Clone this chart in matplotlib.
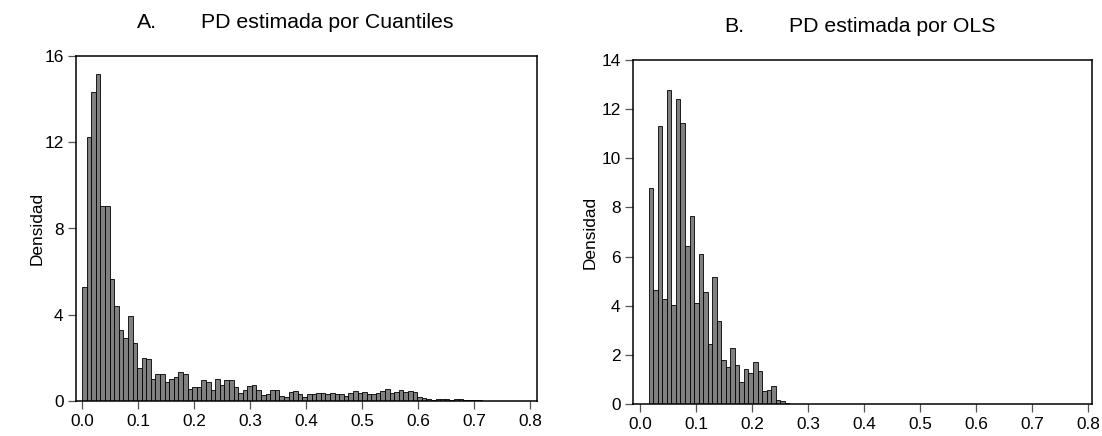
import numpy
import matplotlib
matplotlib.use('Agg')
from matplotlib import pyplot
pyplot.rcParams.update({'font.family': ['Liberation Sans', 'DejaVu Sans'], 'font.size': 12.4})

# densidades por barra
dens_cuantiles = [5.30, 12.26, 14.33, 15.16, 9.03, 9.03, 5.66, 4.39, 3.31, 2.91,
                  3.93, 2.67, 1.51, 2.01, 1.96, 1.00, 1.24, 1.27, 0.87, 1.02,
                  1.13, 1.36, 1.24, 0.56, 0.63, 0.65, 0.97, 0.87, 0.49, 1.00,
                  0.73, 0.99, 0.96, 0.63, 0.39, 0.49, 0.68, 0.73, 0.49, 0.28,
                  0.32, 0.49, 0.49, 0.22, 0.19, 0.40, 0.45, 0.31, 0.20, 0.31,
                  0.34, 0.36, 0.39, 0.34, 0.39, 0.31, 0.31, 0.25, 0.39, 0.45,
                  0.39, 0.40, 0.31, 0.31, 0.39, 0.47, 0.57, 0.39, 0.43, 0.50,
                  0.42, 0.45, 0.40, 0.20, 0.12, 0.08, 0.05, 0.08, 0.08, 0.08,
                  0.05, 0.08, 0.08, 0.05, 0.03, 0.03, 0.03, 0.02]
inicio_cuantiles = 0.0
ancho_cuantiles = 0.0082

dens_ols = [8.81, 4.64, 11.32, 4.27, 12.78, 4.02, 12.40, 11.45, 6.45, 7.67,
            4.11, 6.09, 4.55, 2.43, 5.16, 3.39, 1.79, 1.49, 2.27, 1.57,
            0.91, 1.44, 1.28, 1.72, 1.33, 0.53, 0.58, 0.73, 0.16, 0.11,
            0.04, 0.02]
inicio_ols = 0.0155
ancho_ols = 0.0081

xticks = [0.0, 0.1, 0.2, 0.3, 0.4, 0.5, 0.6, 0.7, 0.8]
xticklabels = ['0.0', '0.1', '0.2', '0.3', '0.4', '0.5', '0.6', '0.7', '0.8']
yticks_a = [0, 4, 8, 12, 16]
yticks_b = [0, 2, 4, 6, 8, 10, 12, 14]

W, H = 1102, 436
fig = pyplot.figure(figsize = (W/100, H/100), dpi = 100)
ax_a = fig.add_axes([76/W, (H-401)/H, 461/W, 345/H])
ax_b = fig.add_axes([633/W, (H-404)/H, 459/W, 344/H])

def histo(ax, dens, inicio, ancho, yticks, xlim, ylabel_x):
    edges = inicio + ancho * numpy.arange(len(dens))
    ax.bar(edges, dens, width = ancho, align = 'edge', color = '#808080',
           edgecolor = 'black', linewidth = 0.6)
    ax.set_xlim(xlim)
    ax.set_ylim(0, yticks[-1])
    ax.set_xticks(xticks)
    ax.set_xticklabels(xticklabels)
    ax.set_yticks(yticks)
    ax.tick_params(direction = 'out', length = 6, width = 0.9, color = '#555555', pad = 3)
    for s in ax.spines.values():
        s.set_linewidth(1.1)
    ax.set_ylabel('Densidad')
    ax.yaxis.set_label_coords(ylabel_x, 0.5)

histo(ax_a, dens_cuantiles, inicio_cuantiles, ancho_cuantiles, yticks_a, (-0.0107, 0.8125), -0.067)
histo(ax_b, dens_ols, inicio_ols, ancho_ols, yticks_b, (-0.0125, 0.807), -0.076)

fig.text(137/W, 1 - 23/H, 'A.', ha = 'left', va = 'center', fontsize = 15.3)
fig.text(201/W, 1 - 23/H, 'PD estimada por Cuantiles', ha = 'left', va = 'center', fontsize = 15.3)
fig.text(724/W, 1 - 27/H, 'B.', ha = 'left', va = 'center', fontsize = 15.3)
fig.text(789/W, 1 - 27/H, 'PD estimada por OLS', ha = 'left', va = 'center', fontsize = 15.3)

fig.savefig('out.png', dpi = 100)
